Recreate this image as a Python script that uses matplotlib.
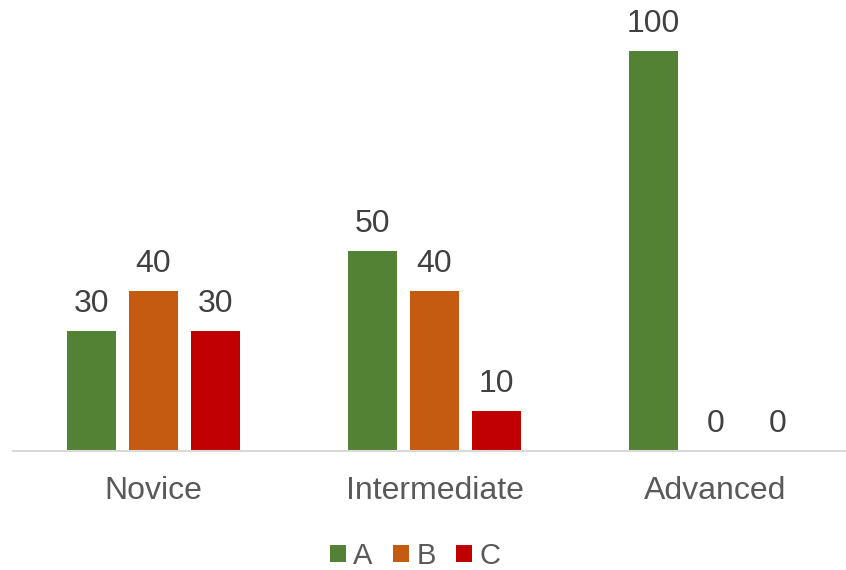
import matplotlib
matplotlib.use("Agg")
import matplotlib.pyplot as plt
import numpy as np
from matplotlib.patches import Patch

plt.rcParams['font.family'] = ['Liberation Sans', 'DejaVu Sans']

categories = ["Novice", "Intermediate", "Advanced"]
series_names = ["A", "B", "C"]
values_A = [30, 50, 100]
values_B = [40, 40, 0]
values_C = [30, 10, 0]
colors = ["#548235", "#C55A11", "#C00000"]

W, H = 846, 570
fig = plt.figure(figsize=(W / 100, H / 100), dpi=100)
ax = fig.add_axes([13 / W, 119 / H, 843 / W, 440 / H])

x = np.arange(len(categories))
bw = 49 / 281
off = 62 / 281
for i, (vals, c) in enumerate(zip([values_A, values_B, values_C], colors)):
    xs = x + (i - 1) * off
    ax.bar(xs, vals, width=bw, color=c, zorder=2)
    for xi, v in zip(xs, vals):
        ax.annotate(str(v), (xi, v), xytext=(0, 19.5), textcoords="offset points",
                    ha="center", va="center", fontsize=23, color="#404040",
                    annotation_clip=False)

ax.set_xlim(-0.5, 2.5)
ax.set_ylim(0, 110)
for s in ["top", "right", "left"]:
    ax.spines[s].set_visible(False)
ax.spines["bottom"].set_color("#D9D9D9")
ax.spines["bottom"].set_linewidth(1.5)
ax.set_yticks([])
ax.set_xticks(x)
ax.set_xticklabels(categories, fontsize=23, color="#595959")
ax.tick_params(axis="x", length=0, pad=18)

handles = [Patch(facecolor=c, label=n) for c, n in zip(colors, series_names)]
fig.legend(handles=handles, loc="center", bbox_to_anchor=(415 / W, 1 - 556 / H),
           ncol=3, frameon=False, fontsize=21, handlelength=0.55, handleheight=0.55,
           handletextpad=0.25, columnspacing=0.7, labelcolor="#595959")

fig.savefig("out.png", dpi=100)
